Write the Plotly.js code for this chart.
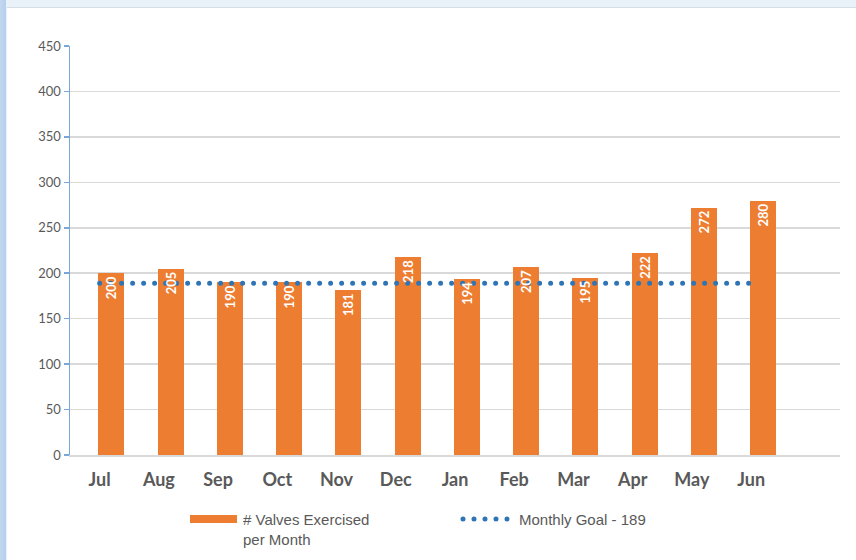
<!DOCTYPE html>
<html>
<head>
<meta charset="utf-8">
<script src="https://cdn.plot.ly/plotly-3.0.1.min.js"></script>
<style>
  html, body { margin: 0; padding: 0; width: 856px; height: 560px; overflow: hidden; background: #e9f1f9; }
  #strip { position: absolute; left: 0; top: 0; width: 6px; height: 560px; background: linear-gradient(to right, #c3d8ef, #b5cfec); }
  #chart { position: absolute; left: 7px; top: 7px; width: 849px; height: 553px; background: #fff; border-top: 1px solid #d5dce4; box-sizing: border-box; }
  .js-line, .shapelayer path { stroke-linecap: round !important; }
</style>
</head>
<body>
<div id="strip"></div>
<div id="chart"></div>
<script>
// ---- data ----
var months = ["Jul","Aug","Sep","Oct","Nov","Dec","Jan","Feb","Mar","Apr","May","Jun"];
var valvesExercised = [200, 205, 190, 190, 181, 218, 194, 207, 195, 222, 272, 280];
var monthlyGoal = [189, 189, 189, 189, 189, 189, 189, 189, 189, 189, 189, 189];
var barName = "# Valves Exercised<br>per Month";
var lineName = "Monthly Goal - 189";
var yTicks = [0, 50, 100, 150, 200, 250, 300, 350, 400, 450];

var orange = "#ed7d31";
var blue = "#2e75b6";
var gray = "#595959";
var font = "Lato, 'Open Sans', sans-serif";
var legendFont = "'Liberation Sans', Arial, sans-serif";

var bars = {
  type: "bar",
  x: months,
  y: valvesExercised,
  name: barName,
  marker: { color: orange },
  width: 0.44,
  offset: -0.02,
  showlegend: false,
  hoverinfo: "x+y"
};

var goalLine = {
  type: "scatter",
  mode: "lines",
  x: months,
  y: monthlyGoal,
  name: lineName,
  line: { color: blue, width: 5, dash: "0px,11px" },
  showlegend: false
};

// data labels on an overlaying subplot so they sit above the goal line
var labels = {
  type: "bar",
  x: months,
  y: valvesExercised,
  xaxis: "x2",
  yaxis: "y2",
  marker: { color: "rgba(0,0,0,0)" },
  width: 0.44,
  offset: -0.02,
  text: valvesExercised.map(String),
  textposition: "inside",
  insidetextanchor: "end",
  textangle: -90,
  textfont: { color: "#ffffff", size: 13, family: font, weight: "bold" },
  constraintext: "none",
  showlegend: false,
  hoverinfo: "skip"
};

// pixel helpers for the custom legend
function px(x) { return (x - 70) / 770; }
function py(y) { return (454 - y) / 409; }

var layout = {
  width: 849,
  height: 553,
  margin: { l: 63, r: 16, t: 38, b: 106 },
  paper_bgcolor: "rgba(0,0,0,0)",
  plot_bgcolor: "#ffffff",
  font: { family: font, color: gray, size: 13 },
  bargap: 0,
  xaxis: {
    type: "category",
    categoryorder: "array",
    categoryarray: months,
    range: [-0.5, 12.5],
    showgrid: false,
    showline: true,
    linecolor: "#d9d9d9",
    linewidth: 1.5,
    ticks: "",
    ticklabelstandoff: 8,
    tickfont: { size: 18, color: gray, family: font, weight: "bold" },
    fixedrange: true
  },
  yaxis: {
    range: [0, 450],
    tickvals: yTicks,
    ticktext: yTicks.map(String),
    showgrid: true,
    gridcolor: "#d9d9d9",
    gridwidth: 1.5,
    zeroline: false,
    showline: true,
    linecolor: "#7aa7da",
    linewidth: 1.5,
    ticks: "outside",
    ticklen: 5,
    tickcolor: "#7aa7da",
    tickwidth: 1.5,
    tickfont: { size: 13, color: gray, family: font },
    fixedrange: true
  },
  xaxis2: {
    type: "category",
    categoryorder: "array",
    categoryarray: months,
    range: [-0.5, 12.5],
    overlaying: "x",
    visible: false,
    fixedrange: true
  },
  yaxis2: {
    range: [0, 450],
    overlaying: "y",
    visible: false,
    fixedrange: true
  },
  shapes: [
    { type: "rect", xref: "paper", yref: "paper",
      x0: px(190), x1: px(237), y0: py(522), y1: py(514),
      fillcolor: orange, line: { width: 0 } },
    { type: "line", xref: "paper", yref: "paper",
      x0: px(463), x1: px(513), y0: py(518), y1: py(518),
      line: { color: blue, width: 5, dash: "0px,11px" } }
  ],
  annotations: [
    { xref: "paper", yref: "paper", x: px(241), y: py(508), xanchor: "left", yanchor: "top",
      text: barName, showarrow: false, align: "left",
      font: { size: 15, color: gray, family: legendFont } },
    { xref: "paper", yref: "paper", x: px(517), y: py(508), xanchor: "left", yanchor: "top",
      text: lineName, showarrow: false, align: "left",
      font: { size: 15, color: gray, family: legendFont } }
  ],
  showlegend: false
};

Plotly.newPlot("chart", [bars, goalLine, labels], layout, { displayModeBar: false, staticPlot: true });
</script>
</body>
</html>
